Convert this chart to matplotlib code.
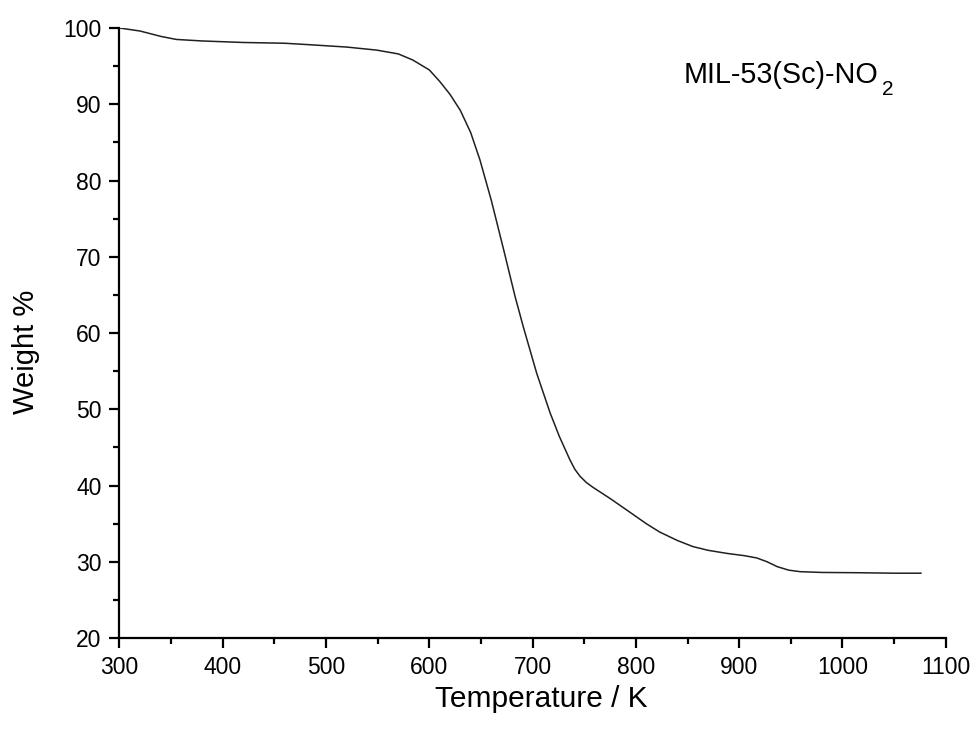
import matplotlib
matplotlib.use("Agg")
import matplotlib.pyplot as plt
from matplotlib.ticker import MultipleLocator

plt.rcParams['font.family'] = ['Liberation Sans', 'DejaVu Sans']

temperature = [300, 320, 340, 355, 380, 420, 460, 485, 520, 549, 570, 584, 600,
               610, 620, 630, 640, 649, 660, 672, 683, 691, 704, 717, 726, 736, 741,
               746, 752, 758, 775, 791, 810, 823, 840, 855, 870, 888, 905, 917, 927,
               937, 948, 959, 980, 1017, 1050, 1076]
weight = [100.0, 99.6, 98.9, 98.5, 98.3, 98.1, 98.0, 97.8, 97.5, 97.1, 96.6, 95.8, 94.5,
          93.0, 91.3, 89.2, 86.3, 82.7, 77.4, 70.9, 64.8, 60.8, 54.7, 49.5, 46.4, 43.4, 42.1,
          41.2, 40.4, 39.8, 38.3, 36.8, 35.0, 33.9, 32.8, 32.0, 31.5, 31.1, 30.8, 30.5, 30.0,
          29.35, 28.9, 28.7, 28.6, 28.56, 28.5, 28.5]

sample_label = 'MIL-53(Sc)-NO'
sample_sub = '2'
x_label = 'Temperature / K'
y_label = 'Weight %'

fig = plt.figure(figsize=(9.77, 7.31), dpi=100)
ax = fig.add_axes([0.1223, 0.1272, 0.8457, 0.8345])
ax.plot(temperature, weight, color='#202020', linewidth=1.1)

ax.set_xlim(300, 1100)
ax.set_ylim(20, 100)
ax.xaxis.set_major_locator(MultipleLocator(100))
ax.xaxis.set_minor_locator(MultipleLocator(50))
ax.yaxis.set_major_locator(MultipleLocator(10))
ax.yaxis.set_minor_locator(MultipleLocator(5))

for s in ['top', 'right']:
    ax.spines[s].set_visible(False)
for s in ['left', 'bottom']:
    ax.spines[s].set_linewidth(1.6)

ax.tick_params(which='major', direction='out', length=7, width=1.6, labelsize=16.5, pad=6)
ax.tick_params(which='minor', direction='out', length=4, width=1.6)

ax.set_xlabel(x_label, fontsize=21.5, labelpad=4)
ax.set_ylabel(y_label, fontsize=21, labelpad=17)
ax.xaxis.label.set_x(0.51)
ax.yaxis.label.set_y(0.469)

main = ax.text(846, 92.8, sample_label, fontsize=20.7, va='baseline', ha='left')
ax.annotate(sample_sub, xy=(1, 0), xycoords=main, xytext=(3.0, 6.5),
            textcoords='offset points', fontsize=15, va='top', ha='left')

fig.savefig('out.png', dpi=100)
